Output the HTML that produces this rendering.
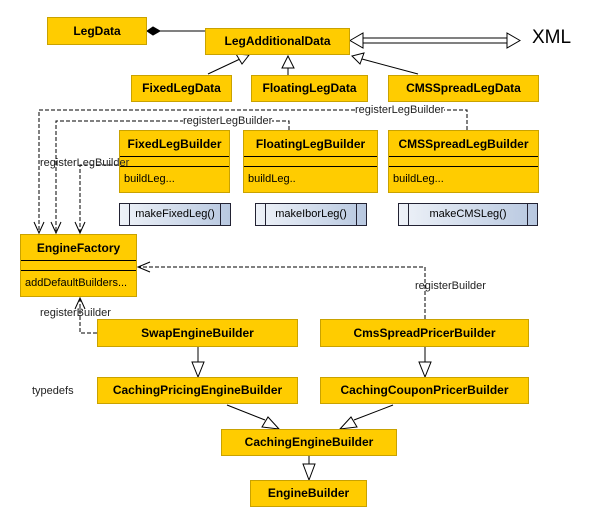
<!DOCTYPE html>
<html><head><meta charset="utf-8"><style>
body{margin:0;background:#fff;width:607px;height:523px;overflow:hidden;position:relative;font-family:"Liberation Sans",sans-serif}
.b{position:absolute;background:#ffcc00;border:1px solid #c9a200;box-sizing:border-box;font-weight:bold;font-size:12px;text-align:center;color:#000}
.m{position:absolute;box-sizing:border-box;border:1px solid #223;background:linear-gradient(90deg,#eef2f8,#b8c8e0);font-size:11px;text-align:center;line-height:20px}
.m:before,.m:after{content:"";position:absolute;top:0;bottom:0;width:9px;border-right:1px solid #223}
.m:before{left:0}.m:after{right:0;border-right:none;border-left:1px solid #223}
.t{position:absolute;font-size:11px;color:#222;white-space:nowrap}
.ln{position:absolute;left:0;right:0;height:1px;background:#000}
</style></head><body>
<svg width="607" height="523" style="position:absolute;left:0;top:0">
<g stroke="#000" fill="none" stroke-width="1">
<line x1="160" y1="31" x2="205" y2="31"/>
<polygon points="147,31 153,27 160,31 153,35" fill="#000"/>
<line x1="362" y1="38" x2="508" y2="38"/><line x1="362" y1="43" x2="508" y2="43"/>
<polygon points="350,40.5 363,33 363,48" fill="#fff"/>
<polygon points="520,40.5 507,33 507,48" fill="#fff"/>
<line x1="208" y1="74" x2="240" y2="59"/><polygon points="249,55 236,54 242,64" fill="#fff"/>
<line x1="288" y1="75" x2="288" y2="68"/><polygon points="288,56 282,68 294,68" fill="#fff"/>
<line x1="418" y1="74" x2="362" y2="59"/><polygon points="352,56 360,64 364,53" fill="#fff"/>
<g stroke-dasharray="4,2">
<polyline points="467,130 467,110 39,110 39,233"/>
<polyline points="289,130 289,121 56,121 56,233"/>
<polyline points="118,165 80,165 80,233"/>
<polyline points="425,319 425,267 138,267"/>
<polyline points="97,333 80,333 80,298"/>
</g>
<polyline points="34,222 39,233 44,222"/><polyline points="51,222 56,233 61,222"/><polyline points="75,222 80,233 85,222"/>
<polyline points="150,262 138,267 150,272"/>
<polyline points="75,309 80,298 85,309"/>
<line x1="198" y1="347" x2="198" y2="362"/><polygon points="198,377 192,362 204,362" fill="#fff"/>
<line x1="425" y1="347" x2="425" y2="362"/><polygon points="425,377 419,362 431,362" fill="#fff"/>
<line x1="227" y1="405" x2="265" y2="420"/><polygon points="279,429 262,427 268,417" fill="#fff"/>
<line x1="393" y1="405" x2="354" y2="420"/><polygon points="340,429 351,417 357,427" fill="#fff"/>
<line x1="309" y1="456" x2="309" y2="464"/><polygon points="309,480 303,464 315,464" fill="#fff"/>
</g></svg>
<div class="b" style="left:47px;top:17px;width:100px;height:28px;line-height:26px">LegData</div>
<div class="b" style="left:205px;top:28px;width:145px;height:27px;line-height:25px">LegAdditionalData</div>
<div style="position:absolute;left:532px;top:27px;font-size:19px">XML</div>
<div class="b" style="left:131px;top:75px;width:101px;height:27px;line-height:25px">FixedLegData</div>
<div class="b" style="left:251px;top:75px;width:117px;height:27px;line-height:25px">FloatingLegData</div>
<div class="b" style="left:388px;top:75px;width:151px;height:27px;line-height:25px">CMSSpreadLegData</div>
<div class="b" style="left:119px;top:130px;width:111px;height:63px"><div style="height:25px;line-height:27px">FixedLegBuilder</div><div class="ln" style="top:25px"></div><div class="ln" style="top:35px"></div><div style="position:absolute;top:42px;left:4px;font-weight:normal;font-size:11px">buildLeg...</div></div>
<div class="b" style="left:243px;top:130px;width:135px;height:63px"><div style="height:25px;line-height:27px">FloatingLegBuilder</div><div class="ln" style="top:25px"></div><div class="ln" style="top:35px"></div><div style="position:absolute;top:42px;left:4px;font-weight:normal;font-size:11px">buildLeg..</div></div>
<div class="b" style="left:388px;top:130px;width:151px;height:63px"><div style="height:25px;line-height:27px">CMSSpreadLegBuilder</div><div class="ln" style="top:25px"></div><div class="ln" style="top:35px"></div><div style="position:absolute;top:42px;left:4px;font-weight:normal;font-size:11px">buildLeg...</div></div>
<div class="m" style="left:119px;top:203px;width:112px;height:23px">makeFixedLeg()</div>
<div class="m" style="left:255px;top:203px;width:112px;height:23px">makeIborLeg()</div>
<div class="m" style="left:398px;top:203px;width:140px;height:23px">makeCMSLeg()</div>
<div class="t" style="left:355px;top:104px;background:#fff">registerLegBuilder</div>
<div class="t" style="left:183px;top:115px;background:#fff">registerLegBuilder</div>
<div class="t" style="left:40px;top:157px">registerLegBuilder</div>
<div class="b" style="left:20px;top:234px;width:117px;height:63px"><div style="height:25px;line-height:26px">EngineFactory</div><div class="ln" style="top:25px"></div><div class="ln" style="top:35px"></div><div style="position:absolute;top:42px;left:4px;font-weight:normal;font-size:11px">addDefaultBuilders...</div></div>
<div class="t" style="left:415px;top:280px">registerBuilder</div>
<div class="t" style="left:40px;top:307px">registerBuilder</div>
<div class="t" style="left:32px;top:385px">typedefs</div>
<div class="b" style="left:97px;top:319px;width:201px;height:28px;line-height:26px">SwapEngineBuilder</div>
<div class="b" style="left:320px;top:319px;width:209px;height:28px;line-height:26px">CmsSpreadPricerBuilder</div>
<div class="b" style="left:97px;top:377px;width:201px;height:27px;line-height:25px">CachingPricingEngineBuilder</div>
<div class="b" style="left:320px;top:377px;width:209px;height:27px;line-height:25px">CachingCouponPricerBuilder</div>
<div class="b" style="left:221px;top:429px;width:176px;height:27px;line-height:25px">CachingEngineBuilder</div>
<div class="b" style="left:250px;top:480px;width:117px;height:27px;line-height:25px">EngineBuilder</div>
</body></html>
